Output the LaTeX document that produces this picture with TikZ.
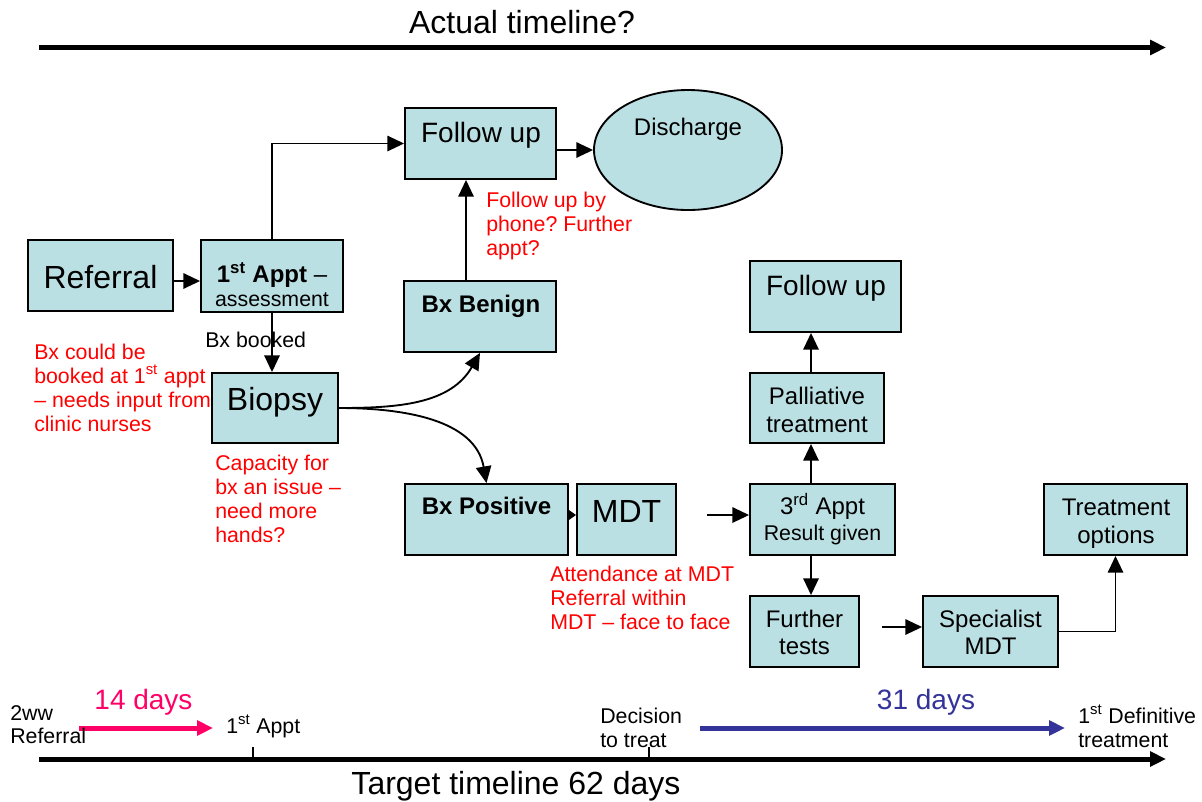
\documentclass[tikz,border=0pt]{standalone}
\usepackage{fontspec}
\setmainfont{Liberation Sans}
\usetikzlibrary{arrows.meta,shapes.geometric}
\definecolor{boxfill}{HTML}{BBE0E3}
\definecolor{notered}{HTML}{FF0000}
\definecolor{pinkc}{HTML}{FF0066}
\definecolor{navyc}{HTML}{333399}
\newcommand{\fsz}[1]{\fontsize{#1}{1.15\dimexpr#1pt\relax}\selectfont}
\frenchspacing
\begin{document}
\frenchspacing
\begin{tikzpicture}[x=0.75pt,y=-0.75pt,
  box/.style={draw=black, line width=1.4pt, fill=boxfill, inner sep=0pt, rectangle},
  conn/.style={line width=1.4pt, -{Triangle[length=12.5pt,width=11.5pt]}},
  shortconn/.style={line width=1.4pt, -{Triangle[length=6pt,width=8pt]}},
  tline/.style={line width=3.75pt, -{Triangle[length=12pt,width=11pt]}},
  lbl/.style={inner sep=0pt, anchor=base},
  lblw/.style={inner sep=0pt, anchor=base west},
  note/.style={inner sep=0pt, anchor=base west, align=left, text=notered, font=\fontsize{16}{18}\selectfont},
]
\useasboundingbox (0,0) rectangle (1202,801);

% timelines
\coordinate (ta) at (39,47.5);
\coordinate (tb) at (1166,47.5);
\draw[tline] (ta) -- (tb);
\node[lbl, font=\fsz{24}] (acttl) at (522,33) {Actual timeline?};

\coordinate (ba) at (39,759);
\coordinate (bb) at (1166,759);
\draw[tline] (ba) -- (bb);
\coordinate (tk1a) at (253,747); \coordinate (tk1b) at (253,759);
\coordinate (tk2a) at (649,747); \coordinate (tk2b) at (649,759);
\draw[line width=0.8pt] (tk1a) -- (tk1b);
\draw[line width=0.8pt] (tk2a) -- (tk2b);
\node[lbl, font=\fsz{24}] (tgttl) at (516,794) {Target timeline 62 days};

\coordinate (pa) at (79,728); \coordinate (pb) at (213,728);
\draw[tline, draw=pinkc, fill=pinkc] (pa) -- (pb);
\coordinate (na) at (700,728); \coordinate (nb) at (1065,728);
\draw[tline, draw=navyc, fill=navyc] (na) -- (nb);
\node[lbl, font=\fsz{21}, text=pinkc] (d14) at (143.5,709) {14 days};
\node[lbl, font=\fsz{21}, text=navyc] (d31) at (926,709) {31 days};
\node[lblw, font=\fsz{16}] (ww1) at (10,720) {2ww};
\node[lblw, font=\fsz{16}] (ww2) at (10,743) {Referral};
\node[lblw, font=\fsz{16}] (fa1) at (226,733) {1\textsuperscript{st} Appt};
\node[lblw, font=\fsz{16}] (dec1) at (600,723) {Decision};
\node[lblw, font=\fsz{16}] (dec2) at (600,747) {to treat};
\node[lblw, font=\fsz{16}] (def1) at (1078,723) {1\textsuperscript{st} Definitive};
\node[lblw, font=\fsz{16}] (def2) at (1078,747) {treatment};

% boxes
\node[box, minimum width=108.75pt, minimum height=53.25pt] (ref) at (100.5,275.5) {};
\node[box, minimum width=106.5pt, minimum height=54pt] (appt1) at (272,276) {};
\node[box, minimum width=94.5pt, minimum height=52.5pt] (bio) at (275,408) {};
\node[box, minimum width=113.25pt, minimum height=53.25pt] (fua) at (480.5,143.5) {};
\node[draw=black, line width=1.4pt, fill=boxfill, ellipse, inner sep=0pt, minimum width=141pt, minimum height=90pt] (dis) at (688,150) {};
\node[box, minimum width=114pt, minimum height=53.25pt] (ben) at (480,316.5) {};
\node[box, minimum width=122.25pt, minimum height=53.25pt] (pos) at (486.5,519.5) {};
\node[box, minimum width=74.25pt, minimum height=53.25pt] (mdt) at (626.5,519.5) {};
\node[box, minimum width=108.75pt, minimum height=53.25pt] (appt3) at (822.5,519.5) {};
\node[box, minimum width=81.75pt, minimum height=53.25pt] (fur) at (804.5,631.5) {};
\node[box, minimum width=100.5pt, minimum height=52.5pt] (pal) at (817,408) {};
\node[box, minimum width=113.25pt, minimum height=53.25pt] (fub) at (825.5,296.5) {};
\node[box, minimum width=101.25pt, minimum height=53.25pt] (spe) at (990.5,631.5) {};
\node[box, minimum width=107.25pt, minimum height=53.25pt] (tre) at (1115.5,519.5) {};

% box texts
\node[lbl, font=\fsz{24}] at (100.5,288) {Referral};
\node[lbl, font=\fsz{18}] at (272,282) {\textbf{1\textsuperscript{st} Appt} --};
\node[lbl, font=\fsz{16}] at (272,306) {assessment};
\node[lbl, font=\fsz{24}] at (275,410) {Biopsy};
\node[lbl, font=\fsz{21}] at (481,142) {Follow up};
\node[lbl, font=\fsz{18}] at (688,135) {Discharge};
\node[lbl, font=\fsz{18}\bfseries] at (481,312) {Bx Benign};
\node[lbl, font=\fsz{18}\bfseries] at (486.5,514) {Bx Positive};
\node[lbl, font=\fsz{24}] at (626.5,522) {MDT};
\node[lbl, font=\fsz{18}] at (822.5,514) {3\textsuperscript{rd} Appt};
\node[lbl, font=\fsz{16}] at (822.5,540) {Result given};
\node[lbl, font=\fsz{18}] at (804.5,627) {Further};
\node[lbl, font=\fsz{18}] at (804.5,654) {tests};
\node[lbl, font=\fsz{18}] at (990.5,627) {Specialist};
\node[lbl, font=\fsz{18}] at (990.5,654) {MDT};
\node[lbl, font=\fsz{18}] at (1116,515) {Treatment};
\node[lbl, font=\fsz{18}] at (1116,543) {options};
\node[lbl, font=\fsz{18}] at (817,404) {Palliative};
\node[lbl, font=\fsz{18}] at (817,432) {treatment};
\node[lbl, font=\fsz{21}] at (826,295) {Follow up};

% labels and notes (anchored at the baseline of the last line)
\node[lblw, font=\fsz{16}] (bxb) at (205,347) {Bx booked};
\node[note] (n1) at (34,431) {Bx could be\\booked at 1\textsuperscript{st} appt\\-- needs input from\\clinic nurses};
\node[note] (n2) at (215,542) {Capacity for\\bx an issue --\\need more\\hands?};
\node[note] (n3) at (486,255) {Follow up by\\phone? Further\\appt?};
\node[note] (n4) at (550,629) {Attendance at MDT\\Referral within\\MDT -- face to face};

% connectors
\coordinate (r1) at (0,281);
\draw[conn] (ref.east |- r1) -- (appt1.west |- r1);
\draw[conn] (appt1.south) -- (appt1.south |- bio.north);
\draw[conn] (appt1.north) |- (fua.west);
\draw[conn] (fua.east |- dis.west) -- (dis.west);
\coordinate (cb) at (466,0);
\draw[conn] (ben.north -| cb) -- (fua.south -| cb);
\draw[conn] (bio.east) to[out=0,in=240] (ben.south);
\draw[conn] (bio.east) to[out=0,in=100] (pos.north);
\coordinate (r2) at (0,515);
\draw[shortconn] (pos.east |- r2) -- (mdt.west |- r2);
\coordinate (fm) at (707,515);
\draw[conn] (fm) -- (fm -| appt3.west);
\coordinate (cx) at (811,0);
\draw[conn] (appt3.south -| cx) -- (fur.north -| cx);
\draw[conn] (appt3.north -| cx) -- (pal.south -| cx);
\draw[conn] (pal.north -| cx) -- (fub.south -| cx);
\coordinate (ff) at (882,627);
\draw[conn] (ff) -- (ff -| spe.west);
\draw[conn] (spe.east) -| (tre.south);
\end{tikzpicture}
\end{document}
